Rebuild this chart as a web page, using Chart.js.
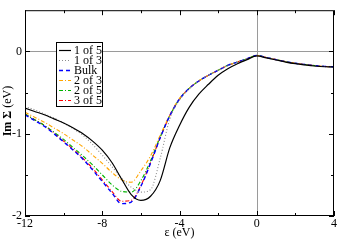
<!DOCTYPE html>
<html>
<head>
<meta charset="utf-8">
<script src="https://cdn.jsdelivr.net/npm/chart.js@4"></script>
<style>
  body { margin: 0; background: #fff; }
  #wrap { width: 338px; height: 240px; }
</style>
</head>
<body>
<div id="wrap"><canvas id="myChart"></canvas></div>
<script>
// energy grid (eV)
var eps = [-12, -11.5, -11, -10.5, -10, -9.5, -9, -8.5, -8, -7.5, -7, -6.5, -6, -5.5, -5, -4.5, -4,
           -3.5, -3, -2.5, -2, -1.5, -1, -0.5, 0, 0.5, 1, 1.5, 2, 2.5, 3, 3.5, 4];

var oneOf5 = [-0.69, -0.73, -0.77, -0.82, -0.87, -0.93, -1.0, -1.09, -1.2, -1.35, -1.55, -1.74, -1.81, -1.76, -1.57, -1.17, -0.9,
              -0.68, -0.52, -0.4, -0.29, -0.21, -0.15, -0.1, -0.055, -0.08, -0.105, -0.13, -0.15, -0.165, -0.178, -0.187, -0.19];
var oneOf3 = [-0.67, -0.71, -0.76, -0.81, -0.87, -0.94, -1.02, -1.13, -1.26, -1.4, -1.54, -1.65, -1.71, -1.68, -1.3, -0.82, -0.59,
              -0.46, -0.36, -0.29, -0.23, -0.17, -0.13, -0.09, -0.05, -0.075, -0.1, -0.125, -0.145, -0.16, -0.173, -0.183, -0.187];
var bulk   = [-0.77, -0.84, -0.91, -1.0, -1.1, -1.2, -1.31, -1.44, -1.58, -1.72, -1.85, -1.83, -1.64, -1.36, -1.05, -0.78, -0.58,
              -0.45, -0.36, -0.29, -0.23, -0.17, -0.13, -0.09, -0.05, -0.075, -0.1, -0.125, -0.145, -0.16, -0.173, -0.183, -0.187];
var twoOf3 = [-0.74, -0.8, -0.86, -0.93, -1.0, -1.08, -1.16, -1.26, -1.36, -1.47, -1.56, -1.59, -1.45, -1.27, -1.02, -0.77, -0.57,
              -0.45, -0.36, -0.29, -0.23, -0.17, -0.13, -0.09, -0.05, -0.075, -0.1, -0.125, -0.145, -0.16, -0.173, -0.183, -0.187];
var twoOf5 = [-0.76, -0.83, -0.9, -0.98, -1.07, -1.17, -1.27, -1.38, -1.5, -1.62, -1.7, -1.71, -1.57, -1.33, -1.04, -0.78, -0.58,
              -0.45, -0.36, -0.29, -0.23, -0.17, -0.13, -0.09, -0.05, -0.075, -0.1, -0.125, -0.145, -0.16, -0.173, -0.183, -0.187];
var threeOf5 = [-0.76, -0.83, -0.9, -0.99, -1.09, -1.19, -1.3, -1.42, -1.56, -1.7, -1.82, -1.81, -1.63, -1.35, -1.05, -0.78, -0.58,
              -0.45, -0.36, -0.29, -0.23, -0.17, -0.13, -0.09, -0.05, -0.075, -0.1, -0.125, -0.145, -0.16, -0.173, -0.183, -0.187];

var labels = ["1 of 5", "1 of 3", "Bulk", "2 of 3", "2 of 5", "3 of 5"];
var xTicks = [-12, -8, -4, 0, 4];
var xMinor = [-10, -6, -2, 2];
var yTicks = [-2, -1, 0];
var yMinor = [-1.5, -0.5];

var serif = "'Liberation Serif', 'DejaVu Serif', serif";

function pts(ys) {
    return eps.map(function (x, i) { return { x: x, y: ys[i] }; });
}

function makeSet(label, ys, color, dash, width) {
    return {
        label: label,
        data: pts(ys),
        borderColor: color,
        backgroundColor: color,
        borderDash: dash,
        borderWidth: width,
        pointRadius: 0,
        showLine: true,
        fill: false,
        cubicInterpolationMode: 'monotone'
    };
}

// box, inward ticks, zero lines, y title and the legend
var framePlugin = {
    id: 'frame',
    beforeDatasetsDraw: function (chart) {
        var ctx = chart.ctx, a = chart.chartArea;
        var x0 = Math.round(chart.scales.x.getPixelForValue(0)) + 0.5;
        var y0 = Math.round(chart.scales.y.getPixelForValue(0)) + 0.5;
        ctx.save();
        ctx.strokeStyle = '#9a9a9a';
        ctx.lineWidth = 1;
        ctx.beginPath();
        ctx.moveTo(x0, a.top); ctx.lineTo(x0, a.bottom);
        ctx.moveTo(a.left, y0); ctx.lineTo(a.right, y0);
        ctx.stroke();
        ctx.restore();
    },
    afterDraw: function (chart) {
        var ctx = chart.ctx, a = chart.chartArea;
        var sx = chart.scales.x, sy = chart.scales.y;
        ctx.save();
        ctx.strokeStyle = '#000';
        ctx.lineWidth = 1;
        ctx.strokeRect(a.left + 0.5, a.top + 0.5, a.right - a.left - 1, a.bottom - a.top - 1);

        ctx.beginPath();
        function xt(v, len) {
            var p = Math.round(sx.getPixelForValue(v)) + 0.5;
            ctx.moveTo(p, a.bottom); ctx.lineTo(p, a.bottom - len);
            ctx.moveTo(p, a.top); ctx.lineTo(p, a.top + len);
        }
        function yt(v, len) {
            var p = Math.round(sy.getPixelForValue(v)) + 0.5;
            ctx.moveTo(a.left, p); ctx.lineTo(a.left + len, p);
            ctx.moveTo(a.right, p); ctx.lineTo(a.right - len, p);
        }
        xTicks.forEach(function (v) { xt(v, 5); });
        xMinor.forEach(function (v) { xt(v, 3); });
        yTicks.forEach(function (v) { yt(v, 5); });
        yMinor.forEach(function (v) { yt(v, 3); });
        ctx.stroke();

        // y axis title: "Im Σ" bold, "(eV)" plain
        ctx.save();
        ctx.translate(8, (a.top + a.bottom) / 2 - 2);
        ctx.rotate(-Math.PI / 2);
        ctx.fillStyle = '#000';
        ctx.textBaseline = 'middle';
        var boldF = 'bold 12px ' + serif, normF = '12px ' + serif;
        ctx.font = boldF;
        var w1 = ctx.measureText('Im Σ ').width;
        ctx.font = normF;
        var w2 = ctx.measureText('(eV)').width;
        var sx0 = -(w1 + w2) / 2;
        ctx.font = boldF;
        ctx.fillText('Im Σ ', sx0, 0);
        ctx.font = normF;
        ctx.fillText('(eV)', sx0 + w1, 0);
        ctx.restore();

        // legend box
        var lx = 56, ly = 42, lw = 47, lh = 65;
        ctx.fillStyle = '#fff';
        ctx.fillRect(lx, ly, lw, lh);
        ctx.strokeStyle = '#000';
        ctx.strokeRect(lx + 0.5, ly + 0.5, lw - 1, lh - 1);
        ctx.font = '12px ' + serif;
        ctx.textBaseline = 'middle';
        chart.data.datasets.forEach(function (ds, i) {
            var yy = ly + 8.5 + i * 10;
            ctx.strokeStyle = ds.borderColor;
            ctx.lineWidth = ds.borderWidth;
            ctx.setLineDash(ds.borderDash);
            ctx.beginPath();
            ctx.moveTo(lx + 3, yy); ctx.lineTo(lx + 15, yy);
            ctx.stroke();
            ctx.setLineDash([]);
            ctx.fillStyle = '#000';
            ctx.fillText(ds.label, lx + 18, yy + 0.5);
        });
        ctx.restore();
    }
};

var ctx = document.getElementById('myChart').getContext('2d');
var chart = new Chart(ctx, {
    type: 'scatter',
    data: {
        datasets: [
            makeSet(labels[0], oneOf5, '#000000', [], 1.2),
            makeSet(labels[1], oneOf3, '#8c8c8c', [1, 2], 1.1),
            makeSet(labels[2], bulk, '#0000ff', [4, 3], 1.4),
            makeSet(labels[3], twoOf3, '#ffa500', [4, 2, 1, 2], 1.1),
            makeSet(labels[4], twoOf5, '#00b400', [4, 2, 1, 2], 1.1),
            makeSet(labels[5], threeOf5, '#ff0000', [4, 2, 1, 2], 1.1)
        ]
    },
    options: {
        responsive: true,
        maintainAspectRatio: false,
        animation: false,
        layout: { padding: { top: 0, right: 3, left: 0, bottom: 0 } },
        plugins: { legend: { display: false }, tooltip: { enabled: false } },
        scales: {
            x: {
                type: 'linear', min: -12, max: 4,
                grid: { display: false, drawTicks: false },
                border: { display: false },
                afterBuildTicks: function (s) { s.ticks = xTicks.map(function (v) { return { value: v }; }); },
                afterFit: function (s) { s.height = 24; },
                ticks: { padding: 1, maxRotation: 0, color: '#000', font: { family: serif, size: 12 } },
                title: { display: true, text: 'ε (eV)', color: '#000', padding: 0, font: { family: serif, size: 12 } }
            },
            y: {
                type: 'linear', min: -2, max: 0.5,
                grid: { display: false, drawTicks: false },
                border: { display: false },
                afterBuildTicks: function (s) { s.ticks = yTicks.map(function (v) { return { value: v }; }); },
                afterFit: function (s) { s.width = 25; },
                ticks: { padding: 3, color: '#000', font: { family: serif, size: 12 } },
                title: { display: false }
            }
        }
    },
    plugins: [framePlugin]
});
</script>
</body>
</html>
